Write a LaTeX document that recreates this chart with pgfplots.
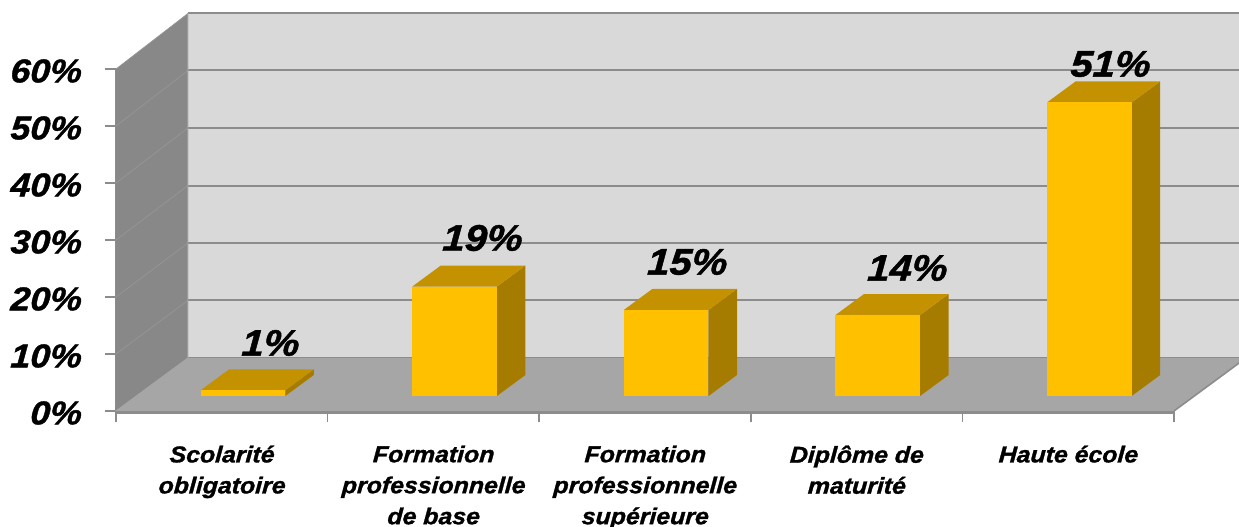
\documentclass[border=0pt]{standalone}
\usepackage{fontspec}
\setmainfont{Liberation Sans}[FakeStretch=1.08,BoldItalicFeatures={FakeBold=1.2,FakeSlant=0.06}]
\usepackage{pgfplots}
\pgfplotsset{compat=1.18}
\definecolor{wallc}{HTML}{D9D9D9}
\definecolor{floorc}{HTML}{A6A6A6}
\definecolor{sidewall}{HTML}{888888}
\definecolor{linec}{HTML}{8C8C8C}
\definecolor{barfront}{HTML}{FFC000}
\definecolor{barside}{HTML}{A67C00}
\definecolor{bartop}{HTML}{C49200}
% one bar: x0 x1 x1back x0back top topback (base sits at 2.63 on the floor, 6.32 at its back)
\newcommand{\cuboid}[6]{%
  \addplot[fill=barside,draw=none] coordinates {(#2,2.63) (#3,6.32) (#3,#6) (#2,#5)} -- cycle;
  \addplot[fill=bartop,draw=none] coordinates {(#1,#5) (#2,#5) (#3,#6) (#4,#6)} -- cycle;
  \addplot[fill=barfront,draw=none] coordinates {(#1,2.63) (#2,2.63) (#2,#5) (#1,#5)} -- cycle;
}
\newcommand{\gridl}[2]{\addplot[linec,line width=2pt] coordinates {(0.34,#1) (5.34,#1)};
  \addplot[color=sidewall!88!white,line width=0.7pt] coordinates {(0,#2) (0.34,#1)};}
\pgfplotstableread{
x y lab
0.728 11.93 1\%
1.730 30.35 19\%
2.698 26.14 15\%
3.738 25.09 14\%
4.698 60.88 51\%
}\labels
\begin{document}
\begin{tikzpicture}
\useasboundingbox (-116pt,-116pt) rectangle (1123pt,411pt);
\begin{axis}[
  scale only axis,
  width=1058pt, height=342pt,
  at={(0pt,0pt)},
  xmin=0, xmax=5, ymin=0, ymax=60,
  clip=false,
  axis lines*=left,
  axis line style={-,draw=linec,line width=1.5pt},
  tick align=outside,
  tick style={draw=linec,line width=1.6pt},
  major tick length=11pt,
  ytick={0,10,...,60},
  yticklabels={0\%,10\%,20\%,30\%,40\%,50\%,60\%},
  yticklabel style={font=\fontsize{33}{36}\selectfont\bfseries\itshape,xshift=-20pt,yshift=-2pt},
  xtick={0,1,2,3,4,5},
  x tick label as interval=true,
  xticklabels={{Scolarité\\obligatoire},{Formation\\professionnelle\\de base},{Formation\\professionnelle\\supérieure},{Diplôme de\\maturité},{Haute école}},
  xticklabel style={align=center,font=\fontsize{23}{31}\selectfont\bfseries\itshape,yshift=-20pt},
]
% back wall, floor, left wall
\addplot[fill=wallc,draw=none] coordinates {(0.34,9.30) (5.34,9.30) (5.34,69.74) (0.34,69.74)} -- cycle;
\addplot[fill=floorc,draw=none] coordinates {(0,0) (5,0) (5.34,9.30) (0.34,9.30)} -- cycle;
\addplot[fill=sidewall,draw=none] coordinates {(0,0) (0.34,9.30) (0.34,69.74) (0,60)} -- cycle;
% gridlines: back height, front height
\gridl{19.39}{10}
\gridl{29.47}{20}
\gridl{39.56}{30}
\gridl{49.65}{40}
\gridl{59.74}{50}
\gridl{69.74}{60}
\addplot[linec,line width=1pt] coordinates {(0.34,9.30) (5.34,9.30)};
\addplot[linec,line width=1.6pt] coordinates {(5,0) (5.34,9.30)};
\addplot[color=floorc,line width=1pt] coordinates {(0,0) (0.34,9.30) (0.34,69.74)};
% front edge of the floor, under the axis line
\addplot[linec,line width=3.5pt] coordinates {(0,-0.25) (5,-0.25)};
% bars: 1, 19.2, 15.1, 14.2, 51.5 above the base
\cuboid{0.40}{0.80}{0.935}{0.535}{3.63}{7.32}
\cuboid{1.40}{1.80}{1.935}{1.535}{21.83}{25.52}
\cuboid{2.40}{2.80}{2.935}{2.535}{17.73}{21.42}
\cuboid{3.40}{3.80}{3.935}{3.535}{16.83}{20.52}
\cuboid{4.40}{4.80}{4.935}{4.535}{54.13}{57.82}
\addplot[draw=none,mark=none,
  nodes near coords,
  point meta=explicit symbolic,
  nodes near coords style={anchor=center,font=\fontsize{37}{40}\selectfont\bfseries\itshape,text=black},
] table[x=x,y=y,meta=lab] {\labels};
\end{axis}
\end{tikzpicture}
\end{document}
